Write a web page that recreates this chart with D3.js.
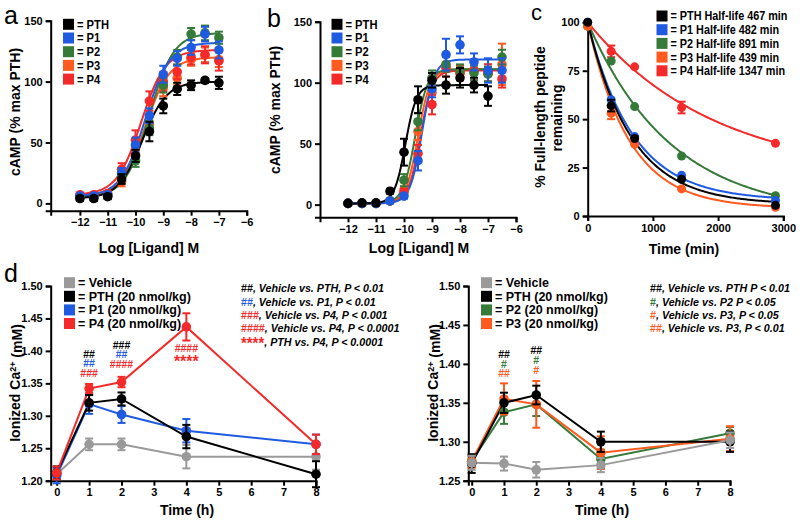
<!DOCTYPE html>
<html><head><meta charset="utf-8">
<script src="https://cdn.jsdelivr.net/npm/d3@7"></script>
<style>
body{margin:0;background:#fff}
text{font-family:"Liberation Sans",Arial,Helvetica,sans-serif;font-weight:bold;fill:#000}
</style>
</head><body>
<svg id="chart" width="800" height="522"></svg>
<script>
const colors = {PTH:"#000000", P1:"#1f5be0", P2:"#367a3a", P3:"#ff5a1f", P4:"#f42a2a", Vehicle:"#9a9a9a"};

// ---------- Panel a: cAMP dose response ----------
const aLogX = [-12,-11.5,-11,-10.5,-10,-9.5,-9,-8.5,-8,-7.5,-7];
const aPTH  = [4,4,5.5,20,39,59,80,94,97,101,99];
const aPTHe = [2,2,2,4,5,8,6,5,4,2,5];
const aP1   = [6,6,7,25,48,72,106,119,128,139,126];
const aP1e  = [2,2,2,4,6,6,7,6,6,6,7];
const aP2   = [5,5,6,22,35,62,97,120,139,140,136];
const aP2e  = [2,2,2,4,5,6,6,6,5,6,5];
const aP3   = [6,6,7,18,40,65,95,103,118,122,118];
const aP3e  = [2,2,2,4,5,6,7,6,5,6,6];
const aP4   = [7,7,8,28,52,84,100,108,120,122,117];
const aP4e  = [2,2,2,5,8,8,8,6,6,7,8];
// fit parameters: [bottom, top, logEC50, hill]
const aFitPTH = [4,100,-9.75,1.0];
const aFitP1  = [6,132,-9.65,1.0];
const aFitP2  = [5,140,-9.5,1.0];
const aFitP3  = [6,120,-9.65,1.0];
const aFitP4  = [7,126,-9.8,1.0];

// ---------- Panel b ----------
const bLogX = [-12,-11.5,-11,-10.5,-10,-9.5,-9,-8.5,-8,-7.5,-7,-6.5];
const bPTH  = [1,1.5,1.5,11,43,86,102,98,104,98,89,null];
const bPTHe = [1,1,1,2,11,11,6,7,8,6,8,0];
const bP1   = [1,1,1,3,7,36,95,123,131,117,110,110];
const bP1e  = [1,1,1,1,2,8,7,13,7,7,10,10];
const bP2   = [1,1,1,3,20,68,104,115,110,108,107,121];
const bP2e  = [1,1,1,1,5,7,6,6,5,6,6,6];
const bP3   = [1,1,1,3,12,60,92,113,108,110,108,115];
const bP3e  = [1,1,1,1,3,7,8,8,6,8,7,17];
const bP4   = [1,1,1,3,10,42,82,112,108,110,108,103];
const bP4e  = [1,1,1,1,3,7,8,12,6,8,7,7];
const bFitPTH = [1,98,-9.95,2.2];
const bFitP1  = [1,119,-9.35,2.0];
const bFitP2  = [1,111,-9.6,2.0];
const bFitP3  = [1,111,-9.5,2.0];
const bFitP4  = [1,110,-9.42,2.0];

// ---------- Panel c: stability ----------
const cTime = [0,360,720,1440,2880];
const cPTH  = [100,57,40,19,5.5];
const cPTHe = [0,3,0,0,0];
const cP1   = [100,60,41,21,8];
const cP1e  = [0,0,0,0,0];
const cP2   = [98,80,56.5,31,10.5];
const cP2e  = [0,0,0,0,0];
const cP3   = [98,53,37,14,4.5];
const cP3e  = [0,3,0,0,0];
const cP4   = [98,85,77,56,37.5];
const cP4e  = [0,3,0,3,0];
const cHalfLife = {PTH:467, P1:482, P2:891, P3:439, P4:1347};
const cPlateau  = {PTH:6, P1:8, P2:0, P3:4, P4:19.7};

// ---------- Panel d: ionized calcium ----------
const dTime = [0,1,2,4,8];
const dLVehicle = [1.21,1.256,1.256,1.237,1.237];
const dLVehicleE= [0.008,0.009,0.009,0.018,0.02];
const dLPTH     = [1.212,1.32,1.326,1.268,1.21];
const dLPTHE    = [0.01,0.012,0.01,0.018,0.02];
const dLP1      = [1.208,1.318,1.302,1.277,1.256];
const dLP1E     = [0.012,0.015,0.013,0.018,0.015];
const dLP4      = [1.212,1.342,1.352,1.437,1.256];
const dLP4E     = [0.01,0.007,0.008,0.021,0.015];

const dRVehicle = [1.273,1.272,1.264,1.27,1.302];
const dRVehicleE= [0.009,0.009,0.01,0.009,0.01];
const dRPTH     = [1.272,1.35,1.36,1.30,1.30];
const dRPTHE    = [0.012,0.013,0.012,0.013,0.013];
const dRP2      = [1.275,1.338,1.348,1.278,1.311];
const dRP2E     = [0.008,0.015,0.015,0.012,0.008];
const dRP3      = [1.275,1.355,1.348,1.286,1.304];
const dRP3E     = [0.008,0.02,0.03,0.021,0.016];

const svg = d3.select("#chart");

// horizontally squeeze a set of texts so that the first one spans `target` px
function squeeze(sel, x0, target) {
  const nodes = sel.nodes();
  if (!nodes.length) return;
  const w = nodes[0].getComputedTextLength();
  const f = Math.min(1, target / w);
  nodes.forEach(n => n.setAttribute("transform", `translate(${x0},0) scale(${f},1) translate(${-x0},0)`));
}

function axes(g, x, y, xTicks, yTicks, xFmt, yFmt, xAxisY, yAxisX) {
  const ax = g.append("g").attr("transform",`translate(0,${xAxisY})`)
    .call(d3.axisBottom(x).tickValues(xTicks).tickSize(5).tickPadding(3).tickFormat(xFmt));
  const ay = g.append("g").attr("transform",`translate(${yAxisX},0)`)
    .call(d3.axisLeft(y).tickValues(yTicks).tickSize(5).tickPadding(3).tickFormat(yFmt));
  [ax, ay].forEach(a => {
    a.selectAll("path").attr("stroke","#000").attr("stroke-width",2);
    a.selectAll("line").attr("stroke","#000").attr("stroke-width",2);
    a.selectAll("text").style("font-size","11px").style("font-weight","bold");
  });
}

function errorbars(g, x, y, xs, ys, es, color, cap) {
  xs.forEach((xv,i) => {
    if (ys[i]==null || !es[i]) return;
    const px = x(xv), y1 = y(ys[i]-es[i]), y2 = y(ys[i]+es[i]);
    g.append("line").attr("x1",px).attr("x2",px).attr("y1",y1).attr("y2",y2).attr("stroke",color).attr("stroke-width",2);
    [y1,y2].forEach(yy => g.append("line").attr("x1",px-cap).attr("x2",px+cap).attr("y1",yy).attr("y2",yy).attr("stroke",color).attr("stroke-width",2));
  });
}
function points(g, x, y, xs, ys, color, r) {
  xs.forEach((xv,i) => {
    if (ys[i]==null) return;
    g.append("circle").attr("cx",x(xv)).attr("cy",y(ys[i])).attr("r",r).attr("fill",color);
  });
}
function legend(g, x0, y0, dy, items, fs, target) {
  const lg = g.append("g");
  items.forEach((it,i) => {
    const yy = y0 + i*dy;
    lg.append("rect").attr("x",x0).attr("y",yy-5.5).attr("width",11).attr("height",11).attr("fill",it.color);
    lg.append("text").attr("class","lt").attr("x",x0+14).attr("y",yy).attr("dy","0.36em").style("font-size",fs+"px").text("= "+it.label);
  });
  if (target) squeeze(lg.selectAll("text.lt"), x0+14, target);
}
function xtitle(g, cx, cy, t){ g.append("text").attr("x",cx).attr("y",cy).attr("text-anchor","middle").attr("dy","0.36em").style("font-size","14px").text(t); }
function ytitle(g, cx, cy, t){ return g.append("text").attr("transform",`translate(${cx},${cy}) rotate(-90)`).attr("text-anchor","middle").attr("dy","0.36em").style("font-size","14px").text(t); }
function letter(g, xx, yy, t, fs){ g.append("text").attr("x",xx).attr("y",yy).style("font-size",(fs||26)+"px").style("font-weight","normal").text(t); }

const logistic = p => v => p[0] + (p[1]-p[0])/(1+Math.pow(10,(p[2]-v)*p[3]));

// ===== Panel a =====
(function(){
  const g = svg.append("g");
  const x = d3.scaleLinear().domain([-13.05,-6]).range([50.7,246.7]);
  const y = d3.scaleLinear().domain([-6,150]).range([210.7,20.7]);
  axes(g,x,y,[-12,-11,-10,-9,-8,-7,-6],[0,50,100,150],d3.format("d"),d3.format("d"),210.7,50.7);
  const sets = [
    ["P3",aP3,aP3e,aFitP3],["P4",aP4,aP4e,aFitP4],["P2",aP2,aP2e,aFitP2],["P1",aP1,aP1e,aFitP1],["PTH",aPTH,aPTHe,aFitPTH]];
  const fx = d3.range(-12,-6.95,0.05);
  sets.forEach(([k,v,e,p]) => {
    const f = logistic(p);
    g.append("path").datum(fx).attr("d",d3.line().x(d=>x(d)).y(d=>y(f(d)))).attr("fill","none").attr("stroke",colors[k]).attr("stroke-width",2);
  });
  sets.forEach(([k,v,e,p]) => { errorbars(g,x,y,aLogX,v,e,colors[k],4); points(g,x,y,aLogX,v,colors[k],4.8); });
  legend(g,63,24.3,13.7,["PTH","P1","P2","P3","P4"].map(k=>({label:k,color:colors[k]})),12.5,32);
  xtitle(g,149,248,"Log [Ligand] M");
  ytitle(g,15,112,"cAMP (% max PTH)");
  letter(g,4,23.5,"a",25);
})();

// ===== Panel b =====
(function(){
  const g = svg.append("g");
  const x = d3.scaleLinear().domain([-13.0,-6]).range([320,516]);
  const y = d3.scaleLinear().domain([-10.4,150]).range([217.3,21.7]);
  axes(g,x,y,[-12,-11,-10,-9,-8,-7,-6],[0,50,100,150],d3.format("d"),d3.format("d"),217.3,320);
  const sets = [
    ["P3",bP3,bP3e,bFitP3],["P4",bP4,bP4e,bFitP4],["P2",bP2,bP2e,bFitP2],["P1",bP1,bP1e,bFitP1],["PTH",bPTH,bPTHe,bFitPTH]];
  sets.forEach(([k,v,e,p]) => {
    const f = logistic(p);
    const last = k==="PTH" ? -7 : -6.5;
    const fx = d3.range(-12,last+0.01,0.05);
    g.append("path").datum(fx).attr("d",d3.line().x(d=>x(d)).y(d=>y(f(d)))).attr("fill","none").attr("stroke",colors[k]).attr("stroke-width",2);
  });
  sets.forEach(([k,v,e,p]) => { errorbars(g,x,y,bLogX,v,e,colors[k],4); points(g,x,y,bLogX,v,colors[k],4.8); });
  legend(g,331.5,24.3,13.7,["PTH","P1","P2","P3","P4"].map(k=>({label:k,color:colors[k]})),12.5,32);
  xtitle(g,419,248,"Log [Ligand] M");
  ytitle(g,275,110,"cAMP (% max PTH)");
  letter(g,267,27,"b",25);
})();

// ===== Panel c =====
(function(){
  const g = svg.append("g");
  const x = d3.scaleLinear().domain([0,3000]).range([587.7,783.3]);
  const y = d3.scaleLinear().domain([0,100]).range([216,22.3]);
  axes(g,x,y,[0,1000,2000,3000],[0,25,50,75,100],d3.format("d"),d3.format("d"),216,587.7);
  const sets = [["P4",cP4,cP4e],["P2",cP2,cP2e],["P1",cP1,cP1e],["P3",cP3,cP3e],["PTH",cPTH,cPTHe]];
  const fx = d3.range(0,2881,20);
  sets.forEach(([k]) => {
    const kk = Math.LN2/cHalfLife[k], P = cPlateau[k];
    g.append("path").datum(fx).attr("d",d3.line().x(d=>x(d)).y(d=>y(P+(100-P)*Math.exp(-kk*d)))).attr("fill","none").attr("stroke",colors[k]).attr("stroke-width",2);
  });
  sets.forEach(([k,v,e]) => { errorbars(g,x,y,cTime,v,e,colors[k],4); points(g,x,y,cTime,v,colors[k],4.5); });
  legend(g,656.5,16,13.7,["PTH","P1","P2","P3","P4"].map(k=>({label:k+" Half-life "+cHalfLife[k]+" min",color:colors[k]})),12.5,117);
  xtitle(g,684,248.5,"Time (min)");
  g.append("text").attr("transform","translate(540,117) rotate(-90)").attr("text-anchor","middle").attr("dy","0.36em").style("font-size","14px").text("% Full-length peptide");
  g.append("text").attr("transform","translate(556.5,118) rotate(-90)").attr("text-anchor","middle").attr("dy","0.36em").style("font-size","14px").text("remaining");
  letter(g,531,20,"c",22);
})();

// ===== Panel d =====
function panelD(opts){
  const g = svg.append("g");
  const x = d3.scaleLinear().domain(opts.xd).range(opts.xr);
  const y = d3.scaleLinear().domain(opts.yd).range([480.7,286]);
  axes(g,x,y,d3.range(0,9),opts.yTicks,d3.format("d"),d3.format(".2f"),480.7,opts.xr[0]);
  opts.sets.forEach(([k,v,e]) => {
    g.append("path").datum(dTime).attr("d",d3.line().x((d)=>x(d)).y((d,i)=>y(v[i]))).attr("fill","none").attr("stroke",colors[k]).attr("stroke-width",2);
  });
  opts.sets.forEach(([k,v,e]) => { errorbars(g,x,y,dTime,v,e,colors[k],4); points(g,x,y,dTime,v,colors[k],4.8); });
  legend(g,opts.legX,282.7,13.6,opts.legend,12.5,97);
  opts.marks.forEach(m => {
    const star = m[3].startsWith("*");
    g.append("text").attr("x",x(m[0])).attr("y",star ? m[1]+7.5 : m[1]).attr("text-anchor","middle")
      .attr("dy",star ? null : "0.36em").style("font-size",star ? "16px" : "10.5px").style("fill",colors[m[2]]).text(m[3]);
  });
  const ng = g.append("g");
  opts.notes.forEach((n,i) => {
    const base = 288.3+i*13.35+4.1;
    const star = n[1].startsWith("*");
    const t = ng.append("text").attr("x",opts.noteX).attr("y",base).style("font-size","11.5px").style("font-style","italic");
    t.append("tspan").style("fill",colors[n[0]]).style("font-style","normal").style("font-size",star?"16px":null).attr("dy",star?3.2:null).text(n[1]);
    t.append("tspan").attr("dy",star?-3.2:null).text(n[2]);
  });
  squeeze(ng.selectAll("text"), opts.noteX, opts.noteW);
  xtitle(g,opts.xtX,510,"Time (h)");
  const yt = g.append("text").attr("transform",`translate(${opts.ytX},383) rotate(-90)`).attr("text-anchor","middle").attr("dy","0.36em").style("font-size","14px");
  yt.append("tspan").text("Ionized Ca");
  yt.append("tspan").attr("dy","-0.45em").style("font-size","9px").text("2+");
  yt.append("tspan").attr("dy","0.45em").text(" (mM)");
  return g;
}
const gdL = panelD({
  xd:[-0.185,8], xr:[50.7,316], yd:[1.2,1.5], yTicks:[1.2,1.25,1.3,1.35,1.4,1.45,1.5],
  sets:[["Vehicle",dLVehicle,dLVehicleE],["P1",dLP1,dLP1E],["PTH",dLPTH,dLPTHE],["P4",dLP4,dLP4E]],
  legX:64,
  legend:[{label:"Vehicle",color:colors.Vehicle},{label:"PTH (20 nmol/kg)",color:colors.PTH},{label:"P1 (20 nmol/kg)",color:colors.P1},{label:"P4 (20 nmol/kg)",color:colors.P4}],
  marks:[[1,354,"PTH","##"],[1,363.5,"P1","##"],[1,373,"P4","###"],[2,345,"PTH","###"],[2,354.5,"P1","##"],[2,364,"P4","####"],[4,348,"P4","####"],[4,359,"P4","****"]],
  noteX:241, noteW:143,
  notes:[["PTH","##",", Vehicle vs. PTH, P < 0.01"],["P1","##",", Vehicle vs. P1, P < 0.01"],["P4","###",", Vehicle vs. P4, P < 0.001"],["P4","####",", Vehicle vs. P4, P < 0.0001"],["P4","****",", PTH vs. P4, P < 0.0001"]],
  xtX:187, ytX:15
});
letter(gdL,4,282,"d",25);
panelD({
  xd:[-0.105,8], xr:[468.3,730], yd:[1.25,1.5], yTicks:[1.25,1.3,1.35,1.4,1.45,1.5],
  sets:[["P2",dRP2,dRP2E],["P3",dRP3,dRP3E],["PTH",dRPTH,dRPTHE],["Vehicle",dRVehicle,dRVehicleE]],
  legX:481,
  legend:[{label:"Vehicle",color:colors.Vehicle},{label:"PTH (20 nmol/kg)",color:colors.PTH},{label:"P2 (20 nmol/kg)",color:colors.P2},{label:"P3 (20 nmol/kg)",color:colors.P3}],
  marks:[[1,354,"PTH","##"],[1,364.5,"P2","#"],[1,373.5,"P3","##"],[2,350.7,"PTH","##"],[2,360.5,"P2","#"],[2,370,"P3","#"]],
  noteX:650, noteW:140,
  notes:[["PTH","##",", Vehicle vs. PTH P < 0.01"],["P2","#",", Vehicle vs. P2 P < 0.05"],["P3","#",", Vehicle vs. P3, P < 0.05"],["P3","##",", Vehicle vs. P3, P < 0.01"]],
  xtX:602, ytX:433
});
</script>
</body></html>
